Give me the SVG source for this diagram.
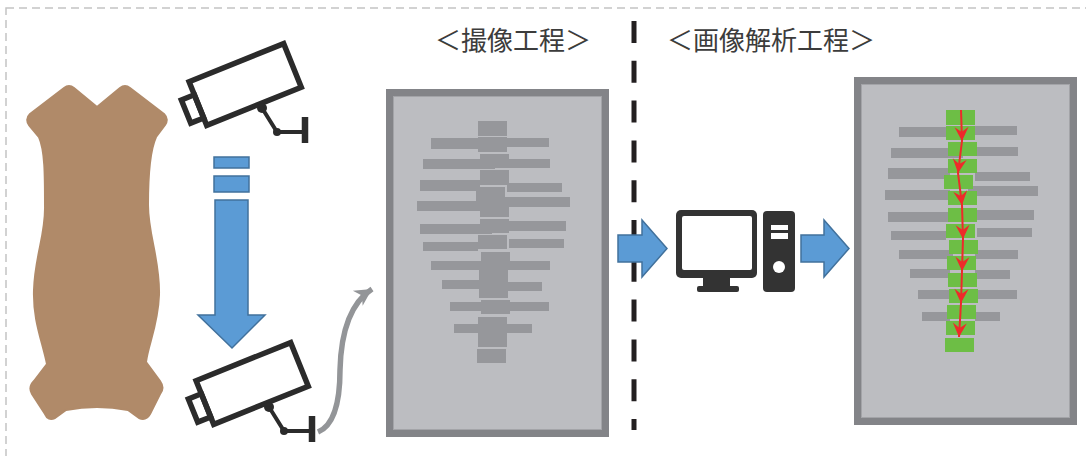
<svg xmlns="http://www.w3.org/2000/svg" width="1086" height="456" viewBox="0 0 1086 456">
  <style>
    .frame { fill: none; stroke: #C4C4C4; stroke-width: 1.5; stroke-dasharray: 8 5; }
    .title { font-family: "Noto Sans CJK JP", "Noto Sans CJK SC", sans-serif; font-size: 26px; fill: #3C3C3C; text-anchor: middle; }
    .cam { fill: none; stroke: #2B2B2B; stroke-width: 5.5; stroke-linejoin: miter; }
    .blue { fill: #5B9BD5; stroke: #41719C; stroke-width: 1.5; }
    .panel-outer { fill: #838488; }
    .panel-inner { fill: #BCBDC1; stroke: #A3A4A8; stroke-width: 1; }
    .bar { fill: #96979B; }
    .seg { fill: #6DBE45; }
    .path-red { fill: none; stroke: #EE2A2A; stroke-width: 2; marker-end: url(#redHead); }
    .pc { fill: #333333; }
  </style>
  <defs>
    <marker id="redHead" viewBox="-15 -8 16 16" refX="0" refY="0" markerWidth="16" markerHeight="16" markerUnits="userSpaceOnUse" orient="auto">
      <path d="M0,0 L-14,-7 L-9,0 L-14,7 Z" fill="#EE2A2A"/>
    </marker>
    <marker id="grayHead" viewBox="-19 -10 20 20" refX="0" refY="0" markerWidth="20" markerHeight="20" markerUnits="userSpaceOnUse" orient="auto">
      <path d="M0,0 L-17,-9 L-12,0 L-17,9 Z" fill="#939598"/>
    </marker>
    <!-- surveillance camera pictogram -->
    <g id="camera">
      <g transform="translate(245 84) rotate(-22)">
        <rect class="cam" x="-51" y="-23" width="102" height="47"/>
        <rect class="cam" x="-65" y="-9" width="14" height="25"/>
      </g>
      <circle cx="262" cy="108" r="5" fill="#2B2B2B"/>
      <polyline points="262,108 277,132 305,132" fill="none" stroke="#2B2B2B" stroke-width="4"/>
      <circle cx="277" cy="132" r="4" fill="#2B2B2B"/>
      <line x1="305" y1="117" x2="305" y2="143" stroke="#2B2B2B" stroke-width="6.5"/>
    </g>
  </defs>

  <rect width="1086" height="456" fill="#FFFFFF"/>
  <rect class="frame" x="6" y="8" width="1100" height="470"/>

  <!-- titles -->
  <g id="title-capture">
    <text class="title" x="513" y="50">＜撮像工程＞</text>
  </g>
  <g id="title-analysis">
    <text class="title" x="771" y="50">＜画像解析工程＞</text>
  </g>

  <!-- process divider -->
  <g id="divider">
    <line x1="634" y1="21" x2="634" y2="430" stroke="#231F20" stroke-width="5" stroke-dasharray="22 17.8"/>
  </g>

  <!-- carcass -->
  <g id="carcass">
    <path fill="#B08A69" stroke="#B08A69" stroke-width="2" stroke-linejoin="round"
      d="M97,107 L120,88 Q125,84 130,88 L164,114 Q169,119 165,125 L156,137
         C150,150 148,175 148,205 C148,235 160,260 159,295 C158,325 148,345 146,362
         L160,381 Q165,388 160,394 L150,414 Q146,421 139,418 L128,410
         Q97,404 66,410 L55,418 Q48,421 45,414 L32,394 Q28,387 34,381 L47,364
         C42,340 33,320 34,290 C35,255 46,235 45,205 C45,175 45,150 39,137
         L29,125 Q25,119 30,114 L64,88 Q69,84 74,88 Z"/>
  </g>

  <!-- cameras -->
  <g id="camera-top">
    <use href="#camera"/>
  </g>
  <g id="camera-bottom">
    <use href="#camera" transform="translate(7 299)"/>
  </g>

  <!-- captured image -->
  <g id="captured-image">
    <rect class="panel-outer" x="386" y="89" width="223" height="348"/>
    <rect class="panel-inner" x="393.5" y="96.5" width="208" height="333"/>
    <g class="bar">
      <rect x="478" y="121" width="29" height="15"/>
      <rect x="431" y="138" width="50" height="11"/>
      <rect x="505" y="138" width="44" height="9"/>
      <rect x="478" y="137" width="29" height="15"/>
      <rect x="423" y="159" width="72" height="10"/>
      <rect x="495" y="159" width="55" height="9"/>
      <rect x="480" y="154" width="29" height="14"/>
      <rect x="480" y="170" width="29" height="15"/>
      <rect x="420" y="180" width="60" height="11"/>
      <rect x="507" y="183" width="55" height="9"/>
      <rect x="476" y="187" width="29" height="14"/>
      <rect x="417" y="201" width="73" height="10"/>
      <rect x="490" y="197" width="80" height="10"/>
      <rect x="480" y="198" width="29" height="19"/>
      <rect x="420" y="224" width="72" height="10"/>
      <rect x="492" y="221" width="74" height="10"/>
      <rect x="480" y="219" width="29" height="14"/>
      <rect x="423" y="242" width="55" height="9"/>
      <rect x="509" y="239" width="55" height="9"/>
      <rect x="478" y="235" width="29" height="14"/>
      <rect x="481" y="252" width="29" height="15"/>
      <rect x="431" y="261" width="119" height="9"/>
      <rect x="479" y="267" width="29" height="31"/>
      <rect x="442" y="280" width="38" height="9"/>
      <rect x="508" y="282" width="34" height="9"/>
      <rect x="481" y="300" width="29" height="14"/>
      <rect x="450" y="302" width="99" height="9"/>
      <rect x="478" y="317" width="29" height="30"/>
      <rect x="454" y="324" width="78" height="9"/>
      <rect x="477" y="349" width="29" height="14"/>
    </g>
  </g>

  <!-- analysis computer -->
  <g id="computer">
    <rect class="pc" x="676" y="210" width="81" height="68" rx="5"/>
    <rect x="682" y="216" width="70" height="54" rx="2" fill="#FFFFFF"/>
    <rect class="pc" x="703" y="277" width="27" height="10"/>
    <rect class="pc" x="697" y="286" width="42" height="6" rx="2"/>
    <rect class="pc" x="763" y="211" width="32" height="81" rx="4"/>
    <rect x="771" y="225" width="17" height="5" fill="#FFFFFF"/>
    <rect x="771" y="233" width="17" height="6" fill="#FFFFFF"/>
    <circle cx="779" cy="267" r="6" fill="#FFFFFF"/>
  </g>

  <!-- analysed image -->
  <g id="analysed-image">
    <rect class="panel-outer" x="854" y="77" width="223" height="348"/>
    <rect class="panel-inner" x="861.5" y="84.5" width="208" height="333"/>
    <g class="bar">
      <rect x="899" y="127" width="47" height="10"/>
      <rect x="975" y="126" width="42" height="9"/>
      <rect x="891" y="148" width="72" height="10"/>
      <rect x="977" y="147" width="41" height="9"/>
      <rect x="888" y="168" width="62" height="11"/>
      <rect x="975" y="172" width="55" height="9"/>
      <rect x="885" y="190" width="65" height="10"/>
      <rect x="968" y="186" width="70" height="10"/>
      <rect x="888" y="212" width="62" height="10"/>
      <rect x="977" y="210" width="57" height="10"/>
      <rect x="891" y="231" width="55" height="9"/>
      <rect x="977" y="228" width="55" height="9"/>
      <rect x="899" y="250" width="54" height="9"/>
      <rect x="975" y="250" width="43" height="9"/>
      <rect x="910" y="269" width="40" height="9"/>
      <rect x="975" y="270" width="35" height="9"/>
      <rect x="918" y="290" width="32" height="9"/>
      <rect x="977" y="290" width="40" height="9"/>
      <rect x="922" y="312" width="28" height="9"/>
      <rect x="975" y="312" width="25" height="9"/>
    </g>
    <g class="seg">
      <rect x="946" y="110" width="29" height="15"/>
      <rect x="946" y="126" width="29" height="14"/>
      <rect x="948" y="142" width="29" height="14"/>
      <rect x="948" y="159" width="29" height="14"/>
      <rect x="944" y="175" width="29" height="14"/>
      <rect x="948" y="191" width="29" height="14"/>
      <rect x="948" y="208" width="29" height="14"/>
      <rect x="946" y="224" width="29" height="14"/>
      <rect x="949" y="240" width="29" height="14"/>
      <rect x="947" y="256" width="29" height="14"/>
      <rect x="948" y="273" width="29" height="14"/>
      <rect x="949" y="289" width="29" height="14"/>
      <rect x="947" y="305" width="29" height="14"/>
      <rect x="946" y="321" width="29" height="14"/>
      <rect x="945" y="338" width="29" height="14"/>
    </g>
    <g id="spine-trace">
      <line class="path-red" x1="961" y1="110" x2="962" y2="141"/>
      <line class="path-red" x1="962" y1="141" x2="958" y2="173"/>
      <line class="path-red" x1="958" y1="173" x2="962" y2="205"/>
      <line class="path-red" x1="962" y1="205" x2="963" y2="239"/>
      <line class="path-red" x1="963" y1="239" x2="962" y2="271"/>
      <line class="path-red" x1="962" y1="271" x2="961" y2="303"/>
      <line class="path-red" x1="961" y1="303" x2="959" y2="337"/>
    </g>
  </g>

  <!-- connectors -->
  <g id="connectors">
    <rect class="blue" x="214" y="157" width="35" height="11"/>
    <rect class="blue" x="214" y="176" width="35" height="16"/>
    <polygon class="blue" points="215,200 248,200 248,315 265,315 232,348 198,315 215,315"/>
    <path d="M318,432 C335,425 340,400 340,370 C341,330 352,302 372,289" fill="none" stroke="#939598" stroke-width="5.5" marker-end="url(#grayHead)"/>
    <polygon class="blue" points="618,235 642,235 642,220 667,248.5 642,277 642,262 618,262"/>
    <polygon class="blue" points="801,235 824,235 824,220 849,248.5 824,277 824,262 801,262"/>
  </g>
</svg>
